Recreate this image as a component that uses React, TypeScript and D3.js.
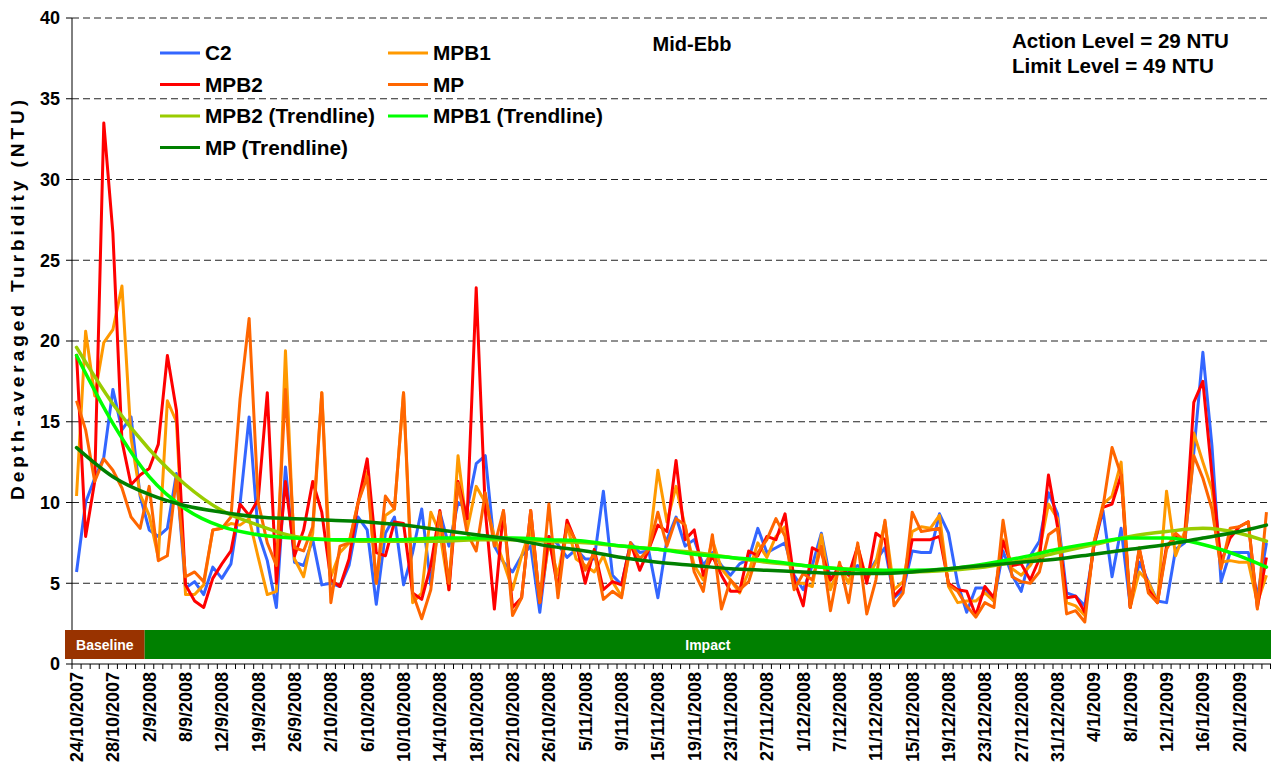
import React from 'react'
import * as d3 from 'd3'

// every 4th category carries a date label
const tickLabels = [
  '24/10/2007', '28/10/2007', '2/9/2008', '8/9/2008', '12/9/2008', '19/9/2008', '26/9/2008',
  '2/10/2008', '6/10/2008', '10/10/2008', '14/10/2008', '18/10/2008', '22/10/2008', '26/10/2008',
  '5/11/2008', '9/11/2008', '15/11/2008', '19/11/2008', '23/11/2008', '27/11/2008', '1/12/2008',
  '7/12/2008', '11/12/2008', '15/12/2008', '19/12/2008', '23/12/2008', '27/12/2008', '31/12/2008',
  '4/1/2009', '8/1/2009', '12/1/2009', '16/1/2009', '20/1/2009',
]
const labelStep = 4

const c2 = [
  5.7, 10.0, 11.5, 12.8, 17.0, 14.5, 15.3, 10.4, 8.3, 7.9, 8.4, 11.8, 4.7, 5.1, 4.3, 6.0, 5.3, 6.2, 9.9, 15.3,
  8.1, 6.4, 3.5, 12.2, 6.3, 6.1, 7.7, 4.9, 5.0, 4.8, 6.1, 9.1, 8.3, 3.7, 8.1, 9.1, 4.9, 6.9, 9.6, 4.9,
  9.4, 7.3, 10.0, 9.6, 12.4, 12.9, 7.3, 6.3, 5.7, 6.7, 7.3, 3.2, 7.9, 7.4, 6.6, 7.1, 6.5, 6.5, 10.7, 5.5,
  4.9, 7.5, 6.9, 7.0, 4.1, 7.7, 9.1, 7.3, 7.7, 6.1, 6.9, 6.1, 5.5, 6.2, 6.5, 8.4, 6.9, 7.2, 7.5, 5.5,
  4.6, 6.1, 8.1, 5.2, 5.9, 5.7, 6.1, 5.5, 6.4, 7.2, 4.1, 4.6, 7.0, 6.9, 6.9, 9.3, 8.1, 5.0, 3.2, 4.7,
  4.7, 3.9, 7.0, 5.5, 4.5, 6.7, 7.6, 10.6, 9.3, 4.4, 4.2, 3.6, 7.3, 9.5, 5.4, 8.4, 3.6, 6.3, 5.1, 3.9,
  3.8, 7.1, 7.5, 13.1, 19.3, 13.5, 5.1, 6.9, 6.9, 6.9, 4.2, 7.5,
]
const mpb1 = [
  10.4, 20.6, 16.6, 19.9, 20.7, 23.4, 14.0, 10.5, 9.2, 6.6, 16.3, 15.0, 4.3, 4.3, 4.9, 8.3, 8.4, 8.7, 8.6, 9.0,
  6.6, 4.3, 4.5, 19.4, 6.5, 5.4, 8.1, 16.8, 5.4, 6.9, 7.5, 10.0, 11.9, 5.0, 9.2, 9.6, 16.8, 3.8, 4.4, 9.4,
  8.1, 4.6, 12.9, 8.3, 11.0, 10.0, 7.9, 6.3, 4.6, 6.7, 8.4, 3.8, 7.5, 5.5, 8.6, 6.5, 6.1, 5.7, 6.7, 5.1,
  4.2, 7.3, 6.5, 7.1, 12.0, 8.8, 11.0, 8.5, 6.1, 5.2, 7.7, 5.9, 5.2, 4.4, 5.7, 7.5, 6.6, 7.9, 8.5, 5.0,
  5.0, 4.8, 8.0, 4.6, 6.1, 5.0, 7.3, 5.2, 6.3, 8.8, 4.6, 5.1, 8.2, 8.5, 8.4, 9.2, 4.8, 3.8, 3.9, 3.9,
  4.4, 3.9, 7.7, 5.9, 5.5, 6.1, 7.0, 9.9, 9.0, 3.8, 3.6, 3.0, 7.5, 9.9, 10.4, 12.5, 3.5, 5.7, 5.1, 3.8,
  10.7, 6.7, 8.2, 14.3, 12.5, 10.8, 6.3, 6.4, 6.3, 6.3, 3.8, 5.5,
]
const mpb2 = [
  19.2, 7.9, 11.3, 33.5, 26.7, 13.8, 11.1, 11.7, 12.1, 13.6, 19.1, 15.7, 4.9, 3.9, 3.5, 5.3, 6.2, 7.0, 9.9, 9.2,
  10.2, 16.8, 5.0, 11.3, 6.7, 8.3, 11.3, 9.4, 5.2, 4.8, 6.5, 10.0, 12.7, 6.9, 6.7, 8.8, 8.7, 4.4, 4.0, 6.1,
  9.5, 4.6, 11.3, 9.0, 23.3, 9.5, 3.4, 9.5, 3.5, 4.1, 9.5, 3.8, 7.9, 4.6, 8.9, 7.5, 5.0, 7.1, 4.6, 5.1,
  4.9, 7.5, 5.8, 7.1, 8.6, 8.2, 12.6, 7.7, 8.3, 5.5, 6.7, 5.5, 4.5, 4.5, 7.0, 6.7, 7.9, 7.7, 9.3, 5.2,
  3.6, 7.2, 6.9, 5.2, 6.1, 5.5, 7.3, 5.0, 8.1, 7.7, 4.2, 4.8, 7.7, 7.7, 7.7, 7.9, 5.0, 4.6, 4.5, 3.0,
  4.8, 4.1, 7.6, 6.1, 6.2, 5.2, 6.5, 11.7, 8.5, 4.1, 4.2, 3.2, 7.3, 9.7, 9.9, 11.7, 3.5, 7.1, 4.6, 3.8,
  7.3, 7.9, 7.6, 16.2, 17.5, 11.7, 6.3, 7.8, 8.5, 8.8, 3.5, 6.6,
]
const mp = [
  16.3, 14.5, 11.3, 12.7, 12.0, 10.9, 9.1, 8.4, 11.0, 6.4, 6.7, 11.6, 5.4, 5.7, 5.1, 8.3, 8.4, 9.1, 16.4, 21.4,
  10.0, 7.5, 6.1, 17.0, 7.2, 7.0, 8.5, 16.8, 3.8, 7.3, 7.5, 10.0, 11.6, 5.0, 10.4, 9.6, 16.8, 4.4, 2.8, 4.6,
  9.4, 5.0, 11.2, 8.1, 7.0, 10.6, 7.3, 9.5, 3.0, 4.1, 9.5, 3.8, 9.9, 4.1, 8.6, 7.6, 5.8, 6.9, 4.0, 4.5,
  4.1, 7.5, 6.5, 7.1, 9.4, 7.3, 9.0, 8.6, 5.7, 4.5, 8.0, 3.4, 5.2, 4.6, 5.1, 6.9, 7.7, 9.0, 7.9, 4.6,
  5.6, 5.2, 7.3, 3.3, 6.3, 3.8, 7.5, 3.1, 5.2, 8.9, 3.6, 4.4, 9.4, 8.2, 8.3, 8.4, 4.9, 4.5, 3.6, 2.9,
  3.8, 3.5, 8.9, 5.4, 5.1, 5.0, 5.7, 8.0, 8.4, 3.1, 3.3, 2.6, 7.5, 9.7, 13.4, 11.7, 3.5, 7.2, 4.4, 3.8,
  7.1, 8.1, 7.6, 12.9, 11.5, 9.6, 5.9, 8.4, 8.5, 8.8, 3.4, 9.4,
]

// trendlines at every 4th category (and the last one)
const trendIdx = [0, 4, 8, 12, 16, 20, 24, 28, 32, 36, 40, 44, 48, 52, 56, 60, 64, 68, 72, 76, 80, 84, 88, 92, 96, 100, 104, 108, 112, 116, 120, 124, 128, 131]
const mpb2Trend = [19.6, 16.1, 13.3, 11.1, 9.5, 8.6, 7.9, 7.7, 7.6, 7.6, 7.6, 7.7, 7.7, 7.6, 7.5, 7.3, 7.1, 6.9, 6.6, 6.3, 6.1, 5.9, 5.8, 5.7, 5.8, 6.0, 6.4, 6.9, 7.4, 7.9, 8.2, 8.4, 8.1, 7.6]
const mpb1Trend = [19.1, 14.9, 11.6, 9.6, 8.5, 8.0, 7.8, 7.7, 7.7, 7.7, 7.8, 7.8, 7.8, 7.7, 7.6, 7.3, 7.1, 6.8, 6.6, 6.4, 6.1, 5.9, 5.8, 5.8, 5.9, 6.2, 6.6, 7.1, 7.5, 7.8, 7.8, 7.4, 6.7, 6.0]
const mpTrend = [13.4, 11.6, 10.5, 9.8, 9.4, 9.1, 9.0, 8.9, 8.8, 8.6, 8.3, 8.0, 7.7, 7.3, 7.0, 6.6, 6.3, 6.1, 5.9, 5.8, 5.7, 5.6, 5.6, 5.7, 5.9, 6.1, 6.3, 6.5, 6.8, 7.1, 7.4, 7.8, 8.2, 8.6]

const phases = [
  { label: 'Baseline', from: 0, to: 8, color: '#993300' },
  { label: 'Impact', from: 8, to: 132, color: '#008000' },
]

const series = [
  { name: 'C2', values: c2, color: '#3366FF' },
  { name: 'MPB1', values: mpb1, color: '#FF9900' },
  { name: 'MPB2', values: mpb2, color: '#FF0000' },
  { name: 'MP', values: mp, color: '#FF6600' },
]
const trends = [
  { name: 'MPB2 (Trendline)', values: mpb2Trend, color: '#99CC00' },
  { name: 'MPB1 (Trendline)', values: mpb1Trend, color: '#00FF00' },
  { name: 'MP (Trendline)', values: mpTrend, color: '#008000' },
]
const legendItems = [series[0], series[1], series[2], series[3], trends[0], trends[1], trends[2]]

const W = 1271
const H = 774
const FONT = 'Liberation Sans, Arial, sans-serif'

export default function App() {
  const left = 72, right = 1271, top = 18, bottom = 664
  const n = c2.length
  const x = d3.scaleBand<number>().domain(d3.range(n)).range([left, right])
  const cx = (i: number) => (x(i) as number) + x.bandwidth() / 2
  const y = d3.scaleLinear().domain([0, 40]).range([bottom, top])
  const yTicks = y.ticks(8)

  const line = d3.line<number>().x((d, i) => cx(i)).y(d => y(d))
  const trendLine = d3.line<number>()
    .x((d, i) => cx(trendIdx[i]))
    .y(d => y(d))
    .curve(d3.curveMonotoneX)

  return (
    <svg width={W} height={H} style={{ position: 'absolute', left: 0, top: 0, background: '#fff' }}
      fontFamily={FONT} fontWeight='bold'>
      {/* gridlines */}
      {yTicks.filter(t => t > 0).map(t => (
        <line key={'g' + t} x1={left} x2={right} y1={y(t)} y2={y(t)}
          stroke='#222' strokeWidth={1} strokeDasharray='7 4' />
      ))}
      {/* y axis */}
      <line x1={left} x2={left} y1={top} y2={bottom} stroke='#000' />
      {yTicks.map(t => (
        <g key={'y' + t}>
          <line x1={left - 6} x2={left} y1={y(t)} y2={y(t)} stroke='#000' />
          <text x={left - 12} y={y(t)} dy='0.35em' textAnchor='end' fontSize={18}>{t}</text>
        </g>
      ))}
      <text transform={`translate(24,300) rotate(-90)`} textAnchor='middle' fontSize={19}
        textLength={400} lengthAdjust='spacing'>
        Depth-averaged Turbidity (NTU)
      </text>
      {/* x axis */}
      <line x1={left} x2={right} y1={bottom} y2={bottom} stroke='#000' />
      {d3.range(n + 1).map(i => {
        const xx = i < n ? (x(i) as number) : right - 0.5
        return <line key={'xt' + i} x1={xx} x2={xx} y1={bottom} y2={bottom + 5} stroke='#000' />
      })}
      {tickLabels.map((lab, k) => (
        <text key={'xl' + k} transform={`translate(${cx(k * labelStep)},${bottom + 8}) rotate(-90)`}
          textAnchor='end' dy='0.35em' fontSize={18}>{lab}</text>
      ))}
      {/* data series */}
      {series.map(s => (
        <path key={s.name} d={line(s.values) as string} fill='none' stroke={s.color}
          strokeWidth={3} strokeLinejoin='round' />
      ))}
      {trends.map(s => (
        <path key={s.name} d={trendLine(s.values) as string} fill='none' stroke={s.color}
          strokeWidth={3.5} strokeLinecap='round' />
      ))}
      {/* phase bars */}
      {phases.map((p, k) => {
        const x0 = k === 0 ? left - 7 : (x(p.from) as number)
        const x1 = p.to >= n ? right : (x(p.to) as number)
        return (
          <g key={p.label}>
            <rect x={x0} y={630} width={x1 - x0} height={29} fill={p.color} />
            <text x={(x0 + x1) / 2} y={645} dy='0.35em' textAnchor='middle' fill='#fff' fontSize={14}>{p.label}</text>
          </g>
        )
      })}
      {/* legend */}
      {legendItems.map((s, k) => {
        const col = k % 2, row = Math.floor(k / 2)
        const lx = col === 0 ? 160 : 388
        const ly = 53 + row * 31.5
        return (
          <g key={'lg' + k}>
            <line x1={lx} x2={lx + 40} y1={ly} y2={ly} stroke={s.color} strokeWidth={3} />
            <text x={lx + 45} y={ly} dy='0.36em' fontSize={20.8}>{s.name}</text>
          </g>
        )
      })}
      <text x={692} y={51} textAnchor='middle' fontSize={20}>Mid-Ebb</text>
      <text x={1012} y={48} fontSize={20.6}>Action Level = 29 NTU</text>
      <text x={1012} y={73} fontSize={20.6}>Limit Level = 49 NTU</text>
    </svg>
  )
}
